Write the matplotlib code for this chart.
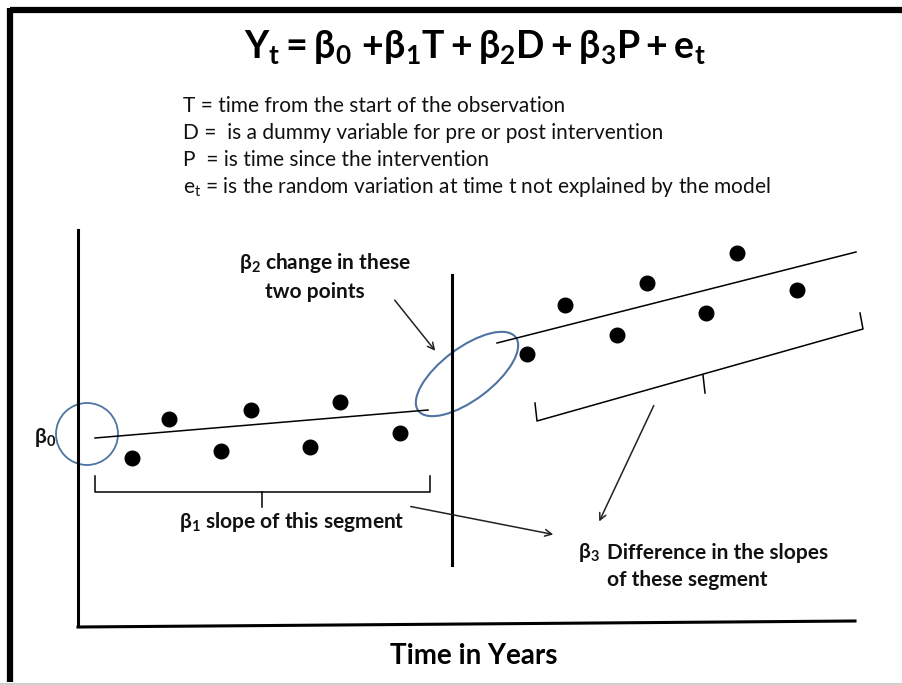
import matplotlib
matplotlib.use("Agg")
import matplotlib.pyplot as plt
from matplotlib.patches import Ellipse, Circle

# 図の中の点（画像座標、y は下向き）
pre_x = [132, 169, 221, 251, 310, 340, 400]
pre_y = [458, 419, 451, 410, 447, 402, 433]
post_x = [527, 565, 617, 647, 706, 737, 797]
post_y = [354, 305, 335, 283, 313, 253, 290]

# 回帰線
pre_line_x = [95, 428]
pre_line_y = [438, 410]
post_line_x = [497, 856]
post_line_y = [343, 252]

title = r"$\mathbf{Y_t = \beta_0\ {+}\beta_1 T + \beta_2 D + \beta_3 P + e_t}$"
defs = [
    "T = time from the start of the observation",
    "D =  is a dummy variable for pre or post intervention",
    "P  = is time since the intervention",
    r"$\mathrm{e_t}$ = is the random variation at time t not explained by the model",
]

FONT = ["Lato", "DejaVu Sans"]
plt.rcParams["font.family"] = FONT
plt.rcParams["mathtext.fontset"] = "custom"
plt.rcParams["mathtext.rm"] = "Lato"
plt.rcParams["mathtext.it"] = "Lato"
plt.rcParams["mathtext.bf"] = "Lato:bold"
plt.rcParams["mathtext.fallback"] = "stixsans"

W, H = 902, 685
fig = plt.figure(figsize=(W / 100, H / 100), dpi=100)
ax = fig.add_axes([0, 0, 1, 1])
ax.set_xlim(0, W)
ax.set_ylim(H, 0)
ax.axis("off")

ink = "#111111"
blue = "#4f73a3"

# 外枠（上と左だけ）
ax.plot([10, W], [10, 10], color="black", lw=4.5, solid_capstyle="butt")
ax.plot([10, 10], [8, 682], color="black", lw=4.5, solid_capstyle="butt")
ax.plot([0, W], [683.5, 683.5], color="#d0d0d0", lw=1.5)

# タイトルと説明
ax.text(475, 47, title, ha="center", va="center", fontsize=27, color="black")
for i, s in enumerate(defs):
    ax.text(183, 106 + 27 * i, s, ha="left", va="center", fontsize=15, color=ink)

# 軸
ax.plot([78, 78], [230, 626], color="black", lw=2.2)
ax.plot([78, 855], [627, 621], color="black", lw=2.2)
ax.plot([452, 452], [275, 565], color="black", lw=2.2)

# 回帰線と点
ax.plot(pre_line_x, pre_line_y, color="black", lw=1.1)
ax.plot(post_line_x, post_line_y, color="black", lw=1.1)
ax.plot(pre_x, pre_y, "o", color="black", ms=10.5)
ax.plot(post_x, post_y, "o", color="black", ms=10.5)

# 円・楕円
ax.add_patch(Circle((87, 434), 31, fill=False, ec=blue, lw=1.3))
ax.add_patch(Ellipse((467, 374), 122, 52, angle=-37, fill=False, ec=blue, lw=1.5))

# かっこ（前半）
ax.plot([95, 95, 430, 430], [476, 492, 492, 476], color="black", lw=1.1)
ax.plot([262, 262], [492, 507], color="black", lw=1.1)

# かっこ（後半、斜め）
ax.plot([535, 537, 863, 860], [403, 421, 329, 313], color="black", lw=1.1)
ax.plot([703, 705], [375, 393], color="black", lw=1.1)

# ラベル
bold = dict(fontsize=15, fontweight="bold", color=ink)
ax.text(45, 437, r"$\mathbf{\beta_0}$", ha="center", va="center", **bold)
ax.text(325, 263, r"$\mathbf{\beta_2}$ change in these", ha="center", va="center", **bold)
ax.text(315, 292, "two points", ha="center", va="center", **bold)
ax.text(292, 522, r"$\mathbf{\beta_1}$ slope of this segment", ha="center", va="center", **bold)
ax.text(578, 553, r"$\mathbf{\beta_3}$", ha="left", va="center", **bold)
ax.text(607, 553, "Difference in the slopes", ha="left", va="center", **bold)
ax.text(607, 580, "of these segment", ha="left", va="center", **bold)
ax.text(474, 656, "Time in Years", ha="center", va="center", fontsize=20,
        fontweight="bold", color="black")

# 矢印
arrow = dict(arrowstyle="->", color="#222222", lw=1.1, mutation_scale=12)
ax.annotate("", xy=(437, 353), xytext=(393, 298), arrowprops=arrow)
ax.annotate("", xy=(556, 535), xytext=(408, 506), arrowprops=arrow)
ax.annotate("", xy=(598, 524), xytext=(655, 403), arrowprops=arrow)

fig.savefig("out.png", dpi=100)
